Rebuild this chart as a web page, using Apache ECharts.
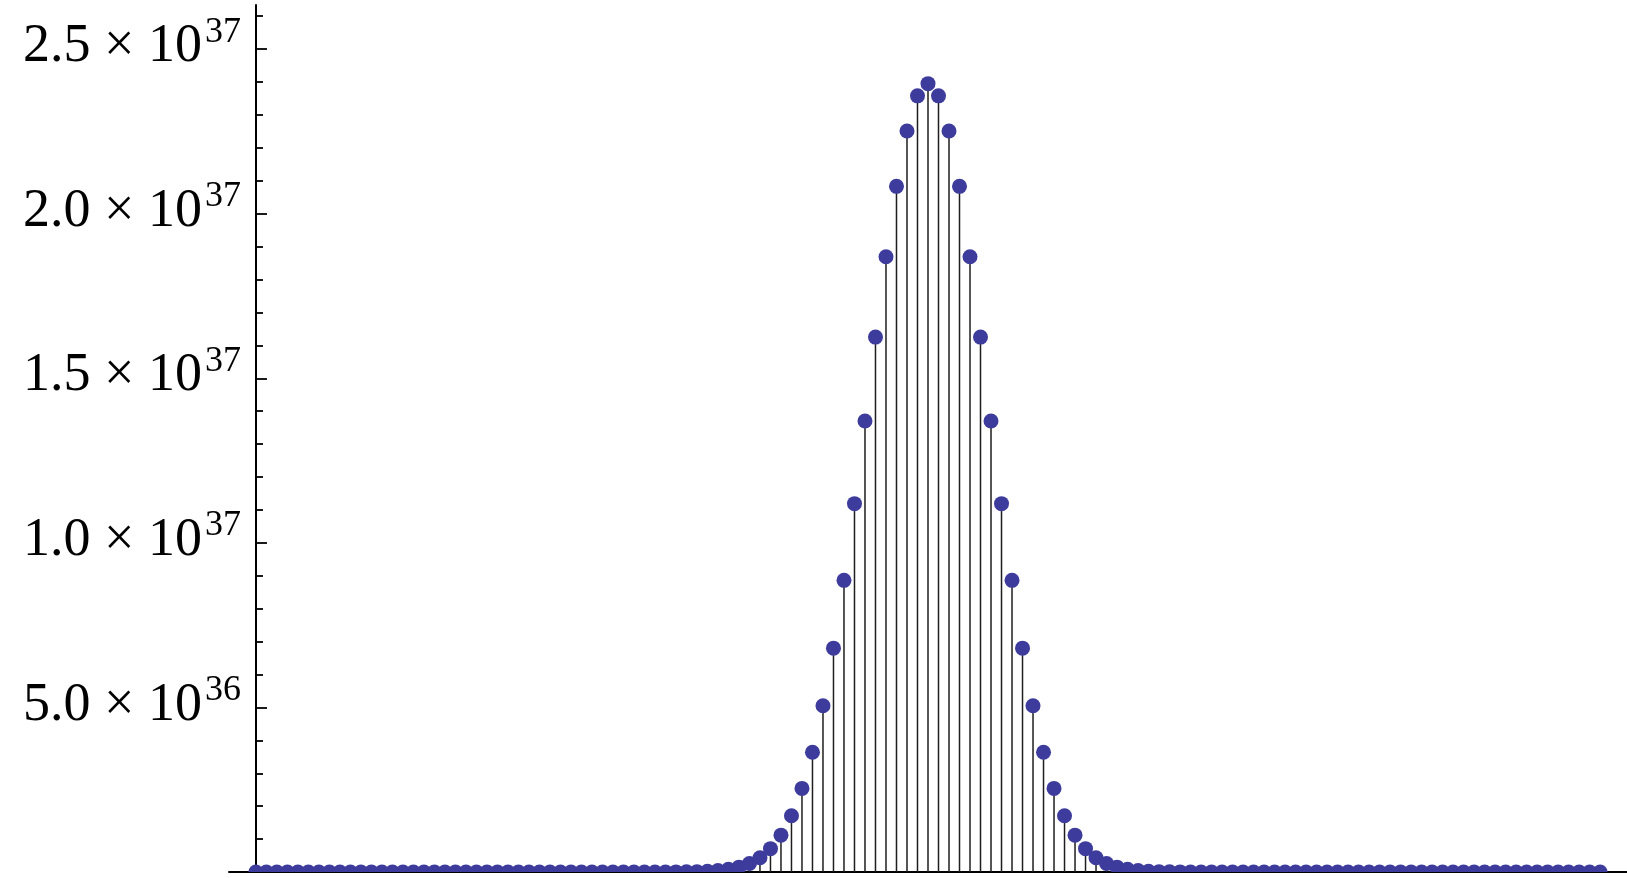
<!DOCTYPE html>
<html>
<head>
<meta charset="utf-8">
<script src="https://cdn.jsdelivr.net/npm/echarts@6/dist/echarts.min.js"></script>
<style>
  html, body { margin: 0; padding: 0; background: #ffffff; }
  #chart { width: 1627px; height: 878px; }
</style>
</head>
<body>
<div id="chart"></div>
<script>
// Number of ways to pick k items out of 128, for k = 0 .. 128
const kValues = Array.from({ length: 129 }, (_, i) => i);
const counts = [
  0, 0, 0, 0, 0, 0, 0, 0, 0, 0,
  0, 0, 0, 0, 0, 0, 0, 0, 0, 0,
  0, 0, 0, 0, 0, 0, 0, 0, 0, 0,
  0, 0, 0, 0, 0,
  0.00003e36, 0.00008e36, 0.0002e36, 0.0005e36, 0.0012e36,
  0.0026e36, 0.0055e36, 0.0113e36, 0.0227e36, 0.0438e36,
  0.0817e36, 0.147e36, 0.257e36, 0.434e36, 0.709e36,
  1.12e36, 1.71e36, 2.54e36, 3.64e36, 5.05e36,
  6.80e36, 8.86e36, 11.19e36, 13.70e36, 16.25e36,
  18.69e36, 20.83e36, 22.51e36, 23.58e36,
  23.95e36,
  23.58e36, 22.51e36, 20.83e36, 18.69e36,
  16.25e36, 13.70e36, 11.19e36, 8.86e36, 6.80e36,
  5.05e36, 3.64e36, 2.54e36, 1.71e36, 1.12e36,
  0.709e36, 0.434e36, 0.257e36, 0.147e36, 0.0817e36,
  0.0438e36, 0.0227e36, 0.0113e36, 0.0055e36, 0.0026e36,
  0.0012e36, 0.0005e36, 0.0002e36, 0.00008e36, 0.00003e36,
  0, 0, 0, 0, 0,
  0, 0, 0, 0, 0, 0, 0, 0, 0, 0,
  0, 0, 0, 0, 0, 0, 0, 0, 0, 0,
  0, 0, 0, 0, 0, 0, 0, 0, 0, 0
];

// Y axis: labelled ticks (mantissa × 10^exponent) and unlabelled minor ticks
const yMajorTicks = [5e36, 10e36, 15e36, 20e36, 25e36];
const yMajorMantissa = ['5.0', '1.0', '1.5', '2.0', '2.5'];
const yMajorExponent = ['36', '37', '37', '37', '37'];
const yMinorTicks = [
  1e36, 2e36, 3e36, 4e36, 6e36, 7e36, 8e36, 9e36,
  11e36, 12e36, 13e36, 14e36, 16e36, 17e36, 18e36, 19e36,
  21e36, 22e36, 23e36, 24e36, 26e36
];

const xRange = [-2.56, 130.56];
const yRange = [0, 2.634e37];

const points = kValues.map((k, i) => [k, counts[i]]);

const gridLeft = 229;
const gridWidth = 1403;
// the vertical axis sits at x = 0, to the right of the grid's left edge
const zeroOffset = -gridWidth * (0 - xRange[0]) / (xRange[1] - xRange[0]);

const axisBlack = { color: '#000000', width: 2 };
const serif = '"Liberation Serif", "DejaVu Serif", serif';

const chart = echarts.init(document.getElementById('chart'), null, { renderer: 'canvas' });

chart.setOption({
  animation: false,
  backgroundColor: '#ffffff',
  grid: { left: gridLeft, width: gridWidth, top: 5, bottom: 6, containLabel: false },
  xAxis: {
    type: 'value',
    min: xRange[0],
    max: xRange[1],
    axisLine: { show: true, onZero: true, lineStyle: axisBlack },
    axisTick: { show: false },
    axisLabel: { show: false },
    splitLine: { show: false }
  },
  yAxis: [
    {
      type: 'value',
      min: yRange[0],
      max: yRange[1],
      position: 'left',
      offset: zeroOffset,
      axisLine: { show: true, onZero: false, lineStyle: axisBlack },
      axisTick: {
        show: true, inside: true, length: 11,
        customValues: yMajorTicks,
        lineStyle: { color: '#000000', width: 1.8 }
      },
      axisLabel: {
        show: true,
        customValues: yMajorTicks,
        margin: 15,
        padding: [0, 0, 4, 0],
        formatter: function (v) {
          const i = yMajorTicks.indexOf(v);
          if (i < 0) return '';
          return '{m|' + yMajorMantissa[i] + ' \u00d7 10}{g|}{e|' + yMajorExponent[i] + '}';
        },
        rich: {
          m: { fontFamily: serif, fontSize: 54, color: '#000000', lineHeight: 66 },
          g: { width: 3, lineHeight: 66 },
          e: { fontFamily: serif, fontSize: 36, color: '#000000', lineHeight: 34, verticalAlign: 'top' }
        }
      },
      splitLine: { show: false }
    },
    {
      type: 'value',
      min: yRange[0],
      max: yRange[1],
      position: 'left',
      offset: zeroOffset,
      axisLine: { show: false, onZero: false },
      axisTick: {
        show: true, inside: true, length: 7,
        customValues: yMinorTicks,
        lineStyle: { color: '#000000', width: 1.8 }
      },
      axisLabel: { show: false },
      splitLine: { show: false }
    }
  ],
  series: [
    {
      // vertical stems from the axis up to each value
      type: 'custom',
      name: 'stems',
      xAxisIndex: 0,
      yAxisIndex: 0,
      data: points,
      clip: true,
      z: 2,
      renderItem: function (params, api) {
        const x = api.value(0);
        const y = api.value(1);
        const base = api.coord([x, 0]);
        const top = api.coord([x, y]);
        return {
          type: 'line',
          shape: { x1: base[0], y1: base[1], x2: top[0], y2: top[1] },
          style: { stroke: '#1e1e1e', lineWidth: 1.5 }
        };
      }
    },
    {
      // point markers, cut off at the horizontal axis
      type: 'custom',
      name: 'counts',
      xAxisIndex: 0,
      yAxisIndex: 0,
      data: points,
      clip: true,
      z: 3,
      renderItem: function (params, api) {
        const p = api.coord([api.value(0), api.value(1)]);
        return {
          type: 'circle',
          shape: { cx: p[0], cy: p[1], r: 7.5 },
          style: { fill: '#3d3b9c' }
        };
      }
    }
  ]
});
</script>
</body>
</html>
